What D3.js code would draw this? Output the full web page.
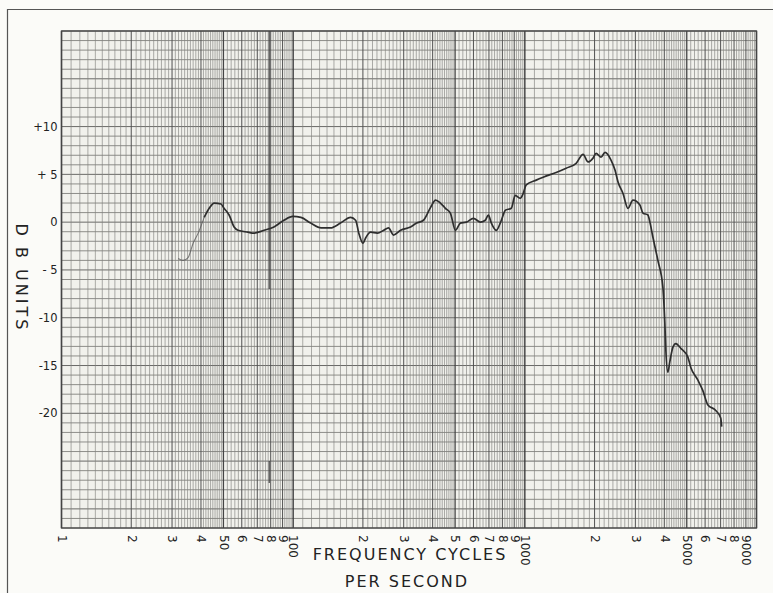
<!DOCTYPE html>
<html><head><meta charset="utf-8">
<script src="https://cdn.jsdelivr.net/npm/d3@7"></script>
<style>
body{margin:0;background:#fbfbf8;}
svg{display:block;}
text{font-family:"DejaVu Sans",sans-serif;fill:#222;}
</style>
</head><body>
<svg id="chart" width="773" height="593"></svg>
<script>
// ---- data (frequency in Hz, response in dB) ----
const frequencies = [31.9,33.5,35.2,37.0,38.9,41.3,43.4,45.6,48.8,50.3,52.9,55.6,57.8,63.8,67.7,74.8,82.6,91.2,99.7,
  108,119,132,145,160,177,186,192,200,206,216,231,246,258,271,291,321,341,365,392,412,432,454,477,502,527,559,600,643,675,696,717,753,792,824,874,909,956,984,
  1014,1120,1200,1365,1508,1665,1784,1875,1970,2030,2133,2219,2355,2450,2525,2653,2787,2928,3139,3234,3398,3466,3570,3752,3943,
  4022,4062,4143,4226,4354,4485,4713,5051,5204,5578,5861,6159,6667,7006,7076];
const dbUnits = [-3.8,-4.0,-3.7,-2.2,-1.15,0.5,1.45,2.0,1.9,1.45,0.75,-0.5,-0.85,-1.05,-1.15,-0.85,-0.5,0.2,0.6,
  0.5,-0.1,-0.6,-0.6,-0.1,0.5,0.2,-1.15,-2.2,-1.6,-1.05,-1.15,-0.85,-0.6,-1.35,-0.85,-0.5,-0.1,0.2,1.55,2.3,2.0,1.45,0.95,-0.85,-0.1,0.0,0.4,0.0,0.2,0.75,-0.1,-0.85,0.2,1.25,1.45,2.8,2.5,3.0,
  3.9,4.4,4.7,5.2,5.65,6.15,7.1,6.3,6.7,7.2,6.8,7.3,6.5,5.45,4.2,3.0,1.45,2.3,1.8,0.95,0.75,0.0,-1.55,-4.0,-6.8,
  -10.6,-13.4,-15.7,-14.6,-13.1,-12.7,-13.2,-14.1,-15.2,-16.5,-17.6,-19.1,-19.7,-20.5,-21.4];
const faintCount = 5; // first points drawn faint, as in the original trace

const xTickValues = [10,20,30,40,50,60,70,80,90,100,200,300,400,500,600,700,800,900,1000,2000,3000,4000,5000,6000,7000,8000,9000];
const xTickLabels = ["1","2","3","4","50","6","7","8","9","100","2","3","4","5","6","7","8","9","1000","2","3","4","5000","6","7","8","9000"];
const yTickValues = [10,5,0,-5,-10,-15,-20];
const yTickLabels = ["+10","+ 5","0","- 5","-10","-15","-20"];

const xTitleLines = ["FREQUENCY CYCLES","PER SECOND"];
const yTitle = "D B UNITS";

// ---- layout ----
const plot = {left:61.5, right:756.5, top:31, bottom:528};
const x = d3.scaleLog().domain([10,10000]).range([plot.left, plot.right]);
const y = d3.scaleLinear().domain([-32,20]).range([plot.bottom, plot.top]);
const svg = d3.select("#chart");

// outer page frame
svg.append("line").attr("x1",8).attr("x2",773).attr("y1",9.5).attr("y2",9.5)
  .attr("stroke","#555").attr("stroke-width",1.2);
svg.append("line").attr("x1",7.5).attr("x2",7.5).attr("y1",9).attr("y2",593)
  .attr("stroke","#555").attr("stroke-width",1.2);

// paper
svg.append("rect").attr("x",plot.left).attr("y",plot.top)
  .attr("width",plot.right-plot.left).attr("height",plot.bottom-plot.top)
  .attr("fill","#f1f1ec");

const grid = svg.append("g");
// horizontal lines: every dB
const hVals = d3.range(-32, 21, 1);
grid.selectAll("line.h").data(hVals).join("line").attr("class","h")
  .attr("x1",plot.left).attr("x2",plot.right)
  .attr("y1",d=>y(d)).attr("y2",d=>y(d))
  .attr("stroke",d=> d%5===0 ? "#626260" : "#747470")
  .attr("stroke-width",d=> d%5===0 ? 0.95 : 0.8);

// vertical log lines
const vVals = [];
[10,100,1000].forEach(dec=>{
  for(let k=10;k<100;k++){
    if(k>=50 && k%2===1) continue;
    let type = "minor";
    if(k%10===0) type = "major";
    if(k===50) type = "five";
    if(k===10) type = "decade";
    vVals.push({f: dec*k/10, type});
  }
});
vVals.push({f:10000, type:"decade"});
const vStyle = {
  minor:{c:"#82827e", w:0.65},
  major:{c:"#505050", w:1.0},
  five:{c:"#444", w:1.3},
  decade:{c:"#3c3c3c", w:1.4}
};
grid.selectAll("line.v").data(vVals).join("line").attr("class","v")
  .attr("x1",d=>x(d.f)).attr("x2",d=>x(d.f))
  .attr("y1",plot.top).attr("y2",plot.bottom)
  .attr("stroke",d=>vStyle[d.type].c).attr("stroke-width",d=>vStyle[d.type].w);

// dark pen mark on the 80 line (present in the original)
[[20,-7],[-25,-27.3]].forEach(s=>{
  svg.append("line").attr("x1",x(80)-1.5).attr("x2",x(80)-1.5)
    .attr("y1",y(s[0])).attr("y2",y(s[1]))
    .attr("stroke","#444").attr("stroke-width",1.2);
});

// border
svg.append("rect").attr("x",plot.left).attr("y",plot.top)
  .attr("width",plot.right-plot.left).attr("height",plot.bottom-plot.top)
  .attr("fill","none").attr("stroke","#444").attr("stroke-width",1.3);

// curve
const pts = frequencies.map((f,i)=>[f, dbUnits[i]]);
const line = d3.line().x(d=>x(d[0])).y(d=>y(d[1])).curve(d3.curveMonotoneX);
svg.append("path").datum(pts.slice(0, faintCount+1)).attr("d",line)
  .attr("fill","none").attr("stroke","#555").attr("stroke-width",1.1).attr("opacity",0.75);
svg.append("path").datum(pts.slice(faintCount)).attr("d",line)
  .attr("fill","none").attr("stroke","#2e2e2e").attr("stroke-width",1.7)
  .attr("stroke-linejoin","round");

// x axis labels (rotated)
const xAxis = d3.axisBottom(x).tickValues(xTickValues)
  .tickFormat((d,i)=>xTickLabels[i]).tickSize(0);
const gx = svg.append("g").attr("transform",`translate(0,${plot.bottom})`).call(xAxis);
gx.select(".domain").remove();
gx.selectAll("text").attr("transform","rotate(90)")
  .attr("x",7).attr("y",0).attr("dy","0.35em")
  .style("text-anchor","start").style("font-size","12px")
  .style("font-family","'DejaVu Sans',sans-serif").attr("fill","#222");

// y axis labels
const yAxis = d3.axisLeft(y).tickValues(yTickValues)
  .tickFormat((d,i)=>yTickLabels[i]).tickSize(0).tickPadding(4);
const gy = svg.append("g").attr("transform",`translate(${plot.left},0)`).call(yAxis);
gy.select(".domain").remove();
gy.selectAll("text").style("font-size","11.5px")
  .style("font-family","'DejaVu Sans',sans-serif").attr("fill","#222");

// titles
svg.append("text").attr("transform",`translate(22,278) rotate(90)`)
  .attr("text-anchor","middle").attr("dy","0.35em")
  .style("font-size","16px").style("letter-spacing","3px").text(yTitle);
svg.selectAll("text.xt").data(xTitleLines).join("text").attr("class","xt")
  .attr("x",(d,i)=> i===0 ? 410 : 407).attr("y",(d,i)=> i===0 ? 560 : 587)
  .attr("text-anchor","middle")
  .style("font-size","16px").style("letter-spacing","2px").text(d=>d);
</script>
</body></html>
